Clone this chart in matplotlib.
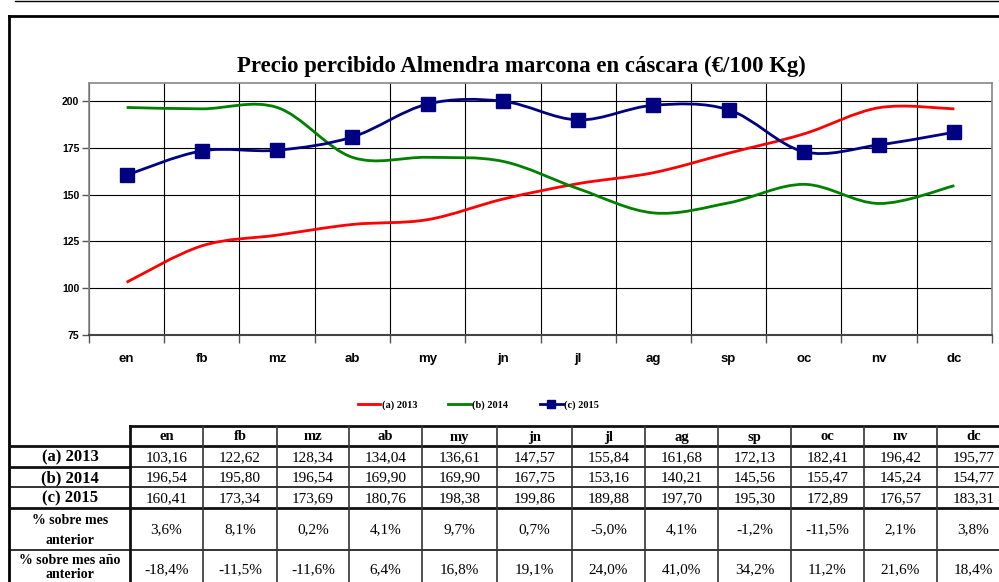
import matplotlib
matplotlib.use("Agg")
import matplotlib.pyplot as plt
import numpy as np
from matplotlib.path import Path
from matplotlib.patches import PathPatch
from matplotlib.lines import Line2D

months = ["en", "fb", "mz", "ab", "my", "jn", "jl", "ag", "sp", "oc", "nv", "dc"]
s2013 = [103.16, 122.62, 128.34, 134.04, 136.61, 147.57, 155.84, 161.68, 172.13, 182.41, 196.42, 195.77]
s2014 = [196.54, 195.80, 196.54, 169.90, 169.90, 167.75, 153.16, 140.21, 145.56, 155.47, 145.24, 154.77]
s2015 = [160.41, 173.34, 173.69, 180.76, 198.38, 199.86, 189.88, 197.70, 195.30, 172.89, 176.57, 183.31]
pct_prev_month = ["3,6%", "8,1%", "0,2%", "4,1%", "9,7%", "0,7%", "-5,0%", "4,1%", "-1,2%", "-11,5%", "2,1%", "3,8%"]
pct_prev_year = ["-18,4%", "-11,5%", "-11,6%", "6,4%", "16,8%", "19,1%", "24,0%", "41,0%", "34,2%", "11,2%", "21,6%", "18,4%"]
series_names = ["(a) 2013", "(b) 2014", "(c) 2015"]
colors = ["#FF0000", "#008000", "#000080"]
yticks = [75, 100, 125, 150, 175, 200]

W, H = 999, 582
fig = plt.figure(figsize=(W / 100, H / 100), dpi=100)

# main chart axes
left, right, top, bottom = 89, 992, 83, 335
ax = fig.add_axes([left / W, 1 - bottom / H, (right - left) / W, (bottom - top) / H])
ax.set_xlim(-0.5, 11.5)
ax.set_ylim(75, 209.6)
ax.set_yticks(yticks)
ax.set_yticklabels([str(v) for v in yticks], fontsize=7.5, fontweight="bold", family="Liberation Sans")
ax.set_xticks(range(12))
ax.set_xticklabels(months, fontsize=9.5, fontweight="bold", family="Liberation Sans")
ax.set_xticks(np.arange(-0.5, 12, 1), minor=True)
ax.tick_params(axis="x", which="major", length=0, pad=13)
ax.tick_params(axis="x", which="minor", length=6, width=1, direction="out", color="#555555")
ax.tick_params(axis="y", length=5, width=1, direction="out", color="#555555", pad=2)
ax.grid(True, axis="y", which="major", color="black", linewidth=0.8)
ax.grid(True, axis="x", which="minor", color="black", linewidth=0.8)
ax.set_axisbelow(True)
for sp in ax.spines.values():
    sp.set_color("#888888")
    sp.set_linewidth(1.2)
ax.spines["bottom"].set_color("#444444")
ax.spines["bottom"].set_linewidth(1.5)


def smooth_path(xs, ys):
    P = np.column_stack([xs, ys]).astype(float)
    n = len(P)
    verts = [P[0]]
    codes = [Path.MOVETO]
    for i in range(n - 1):
        p0 = P[i - 1] if i > 0 else P[i]
        p1 = P[i]
        p2 = P[i + 1]
        p3 = P[i + 2] if i + 2 < n else P[i + 1]
        c1 = p1 + (p2 - p0) / 6.0
        c2 = p2 - (p3 - p1) / 6.0
        verts += [c1, c2, p2]
        codes += [Path.CURVE4] * 3
    return Path(verts, codes)


x = np.arange(12)
for vals, c in zip([s2013, s2014, s2015], colors):
    ax.add_patch(PathPatch(smooth_path(x, vals), facecolor="none", edgecolor=c, linewidth=2.0, zorder=3))
ax.plot(x, s2015, linestyle="none", marker="s", markersize=10.5, color=colors[2], zorder=4)

# overlay axes in pixel coords
ov2 = fig.add_axes([0, 0, 1, 1], zorder=5)
ov2.set_xlim(0, W)
ov2.set_ylim(H, 0)
ov2.axis("off")
ov2.patch.set_alpha(0)

# outer frame
ov2.plot([15, W], [0.5, 0.5], color="black", lw=1.0)
ov2.plot([9, W + 5], [16, 16], color="black", lw=2.0)
ov2.plot([9, 9], [16, H + 5], color="black", lw=2.0)

# title
ov2.text(521, 66, "Precio percibido Almendra marcona en cáscara (€/100 Kg)", ha="center", va="center",
         fontsize=16.4, fontweight="bold", family="Liberation Serif")

# legend
handles = [Line2D([], [], color=colors[0], lw=2.0),
           Line2D([], [], color=colors[1], lw=2.0),
           Line2D([], [], color=colors[2], lw=2.0, marker="s", markersize=6)]
fig.legend(handles, series_names, loc="center", bbox_to_anchor=(478 / W, 1 - 405 / H), ncol=3,
           frameon=False, prop={"family": "Liberation Serif", "weight": "bold", "size": 7.5},
           handlelength=2.2, handletextpad=0.1, columnspacing=3.0)

# table
colb = [130, 203, 277, 349, 422, 497, 572, 645, 718, 791, 864, 937, 1010]
rowb = [426, 446, 467, 487, 508, 550, 592]
lc = "#111111"
# horizontal lines
ov2.plot([130, W], [rowb[0], rowb[0]], color=lc, lw=2.0)
ov2.plot([10, W], [rowb[1], rowb[1]], color=lc, lw=2.0)
ov2.plot([10, 130], [rowb[2], rowb[2]], color=lc, lw=2.0)
ov2.plot([130, W], [rowb[2], rowb[2]], color=lc, lw=1.2)
ov2.plot([10, W], [rowb[3], rowb[3]], color=lc, lw=1.2)
ov2.plot([10, W], [rowb[4], rowb[4]], color=lc, lw=2.0)
ov2.plot([10, W], [rowb[5], rowb[5]], color=lc, lw=1.2)
# vertical lines
ov2.plot([130, 130], [rowb[0], H + 5], color=lc, lw=2.0)
for cx in colb[1:-1]:
    ov2.plot([cx, cx], [rowb[0], H + 5], color="#333333", lw=1.2)

# header
for i, m in enumerate(months):
    cx = (colb[i] + colb[i + 1]) / 2
    ov2.text(cx, (rowb[0] + rowb[1]) / 2 + 1, m, ha="center", va="center", fontsize=10.5,
             fontweight="bold", family="Liberation Serif")

for r, (name, vals) in enumerate(zip(series_names, [s2013, s2014, s2015])):
    cy = (rowb[r + 1] + rowb[r + 2]) / 2 + 1
    ov2.text(70, cy, name, ha="center", va="center", fontsize=12, fontweight="bold", family="Liberation Serif")
    for i, v in enumerate(vals):
        cx = (colb[i] + colb[i + 1]) / 2
        ov2.text(cx, cy, f"{v:.2f}".replace(".", ","), ha="center", va="center", fontsize=11,
                 family="Liberation Serif")

ov2.text(70, 521, "% sobre mes", ha="center", va="center", fontsize=10, fontweight="bold", family="Liberation Serif")
ov2.text(70, 541, "anterior", ha="center", va="center", fontsize=10, fontweight="bold", family="Liberation Serif")
ov2.text(70, 560, "% sobre mes año", ha="center", va="center", fontsize=10, fontweight="bold", family="Liberation Serif")
ov2.text(70, 574, "anterior", ha="center", va="center", fontsize=10, fontweight="bold", family="Liberation Serif")
for i in range(12):
    cx = (colb[i] + colb[i + 1]) / 2
    ov2.text(cx, 530, pct_prev_month[i], ha="center", va="center", fontsize=11, family="Liberation Serif")
    ov2.text(cx, 570, pct_prev_year[i], ha="center", va="center", fontsize=11, family="Liberation Serif")

fig.savefig("out.png", dpi=100)
